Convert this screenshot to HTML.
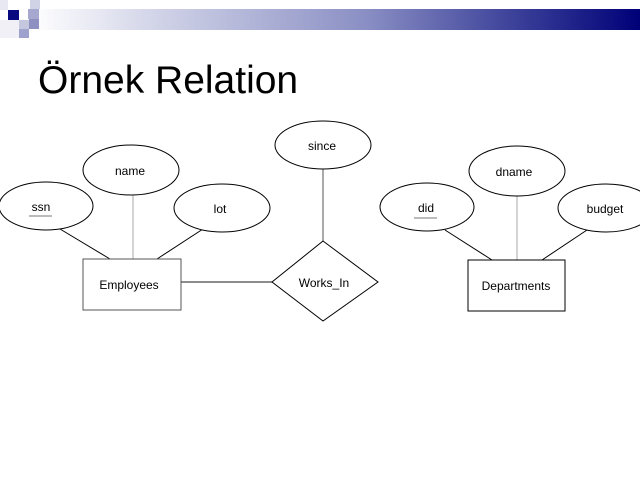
<!DOCTYPE html>
<html><head><meta charset="utf-8"><style>
body{margin:0;width:640px;height:480px;background:#fff;overflow:hidden;position:relative;font-family:"Liberation Sans",sans-serif}
.bar{position:absolute;left:30px;top:9px;width:610px;height:21px;background:linear-gradient(to right,#fff,#c8cbe3 25%,#8a8fc4 55%,#3a3f98 80%,#000078)}
.sq{position:absolute}
h1{position:absolute;left:38px;top:59px;margin:0;font-weight:normal;font-size:39px;color:#000}
</style></head><body>
<div class="bar"></div>
<div class="sq" style="left:0;top:0;width:8px;height:10px;background:#e8e8f2"></div>
<div class="sq" style="left:30px;top:0;width:10px;height:9px;background:#d0d2e6"></div>
<div class="sq" style="left:8px;top:10px;width:11px;height:10px;background:#0a0a80"></div>
<div class="sq" style="left:28px;top:9px;width:11px;height:10px;background:#a6a8d0"></div>
<div class="sq" style="left:19px;top:20px;width:10px;height:9px;background:#c5c7df"></div>
<div class="sq" style="left:29px;top:19px;width:10px;height:10px;background:#8d90c0"></div>
<div class="sq" style="left:19px;top:29px;width:10px;height:9px;background:#9fa2cc"></div>
<div class="sq" style="left:0;top:20px;width:19px;height:18px;background:#f0f0f6"></div>
<h1>Örnek Relation</h1>
<svg width="640" height="480" style="position:absolute;left:0;top:0" font-family="Liberation Sans Narrow, Liberation Sans, sans-serif" font-size="12">
<g fill="none" stroke="#000" stroke-width="1">
<line x1="60" y1="229" x2="110" y2="259"/>
<line x1="203" y1="229" x2="157" y2="259"/>
<line x1="133" y1="194" x2="133" y2="259" stroke="#aaa"/>
<line x1="181" y1="282" x2="272" y2="282" stroke="#666" stroke-width="1.5"/>
<line x1="323" y1="167" x2="323" y2="241" stroke="#555"/>
<line x1="445" y1="230" x2="492" y2="260"/>
<line x1="587" y1="230" x2="542" y2="260"/>
<line x1="517" y1="196" x2="517" y2="260" stroke="#aaa"/>
<ellipse cx="46" cy="206" rx="47" ry="24" fill="#fff"/>
<ellipse cx="131" cy="170" rx="48" ry="25" fill="#fff"/>
<ellipse cx="222" cy="208" rx="48" ry="24" fill="#fff"/>
<ellipse cx="323" cy="145" rx="48" ry="24" fill="#fff"/>
<ellipse cx="427" cy="207" rx="47" ry="24" fill="#fff"/>
<ellipse cx="517" cy="171" rx="48" ry="25" fill="#fff"/>
<ellipse cx="606" cy="208" rx="48" ry="24" fill="#fff"/>
<rect x="83" y="259" width="98" height="51" fill="#fff" stroke="#555"/>
<rect x="468" y="260" width="97" height="51" fill="#fff"/>
<polygon points="323,241 378,282 323,321 272,282" fill="#fff"/>
<line x1="29" y1="216" x2="52" y2="216" stroke="#777"/>
<line x1="414" y1="218" x2="437" y2="218" stroke="#777"/>
</g>
<g fill="#000" text-anchor="middle">
<text x="41" y="211">ssn</text>
<text x="130" y="175">name</text>
<text x="220" y="213">lot</text>
<text x="322" y="150">since</text>
<text x="426" y="212">did</text>
<text x="514" y="176">dname</text>
<text x="605" y="213">budget</text>
<text x="129" y="289">Employees</text>
<text x="516" y="290">Departments</text>
<text x="324" y="287">Works_In</text>
</g>
</svg>
</body></html>
